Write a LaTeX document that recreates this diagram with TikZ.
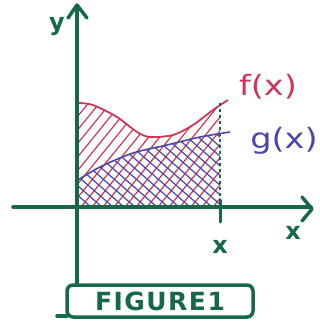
\documentclass[tikz,border=0pt]{standalone}
\usepackage{fontspec}
\setsansfont{DejaVu Sans}
\newfontfamily\handfont[LetterSpace=6]{DejaVu Sans}
\definecolor{pen}{RGB}{22,105,72}
\definecolor{fred}{RGB}{205,55,85}
\definecolor{gblue}{RGB}{75,70,170}
\begin{document}
\begin{tikzpicture}[x=1pt,y=-1pt,
  axis/.style={pen, line width=3.5pt, line cap=round, line join=round},
  fcurve/.style={fred, line width=1.8pt},
  gcurve/.style={gblue, line width=1.6pt},
  redhatch/.style={fred, line width=1.2pt},
  bluehatch/.style={gblue, line width=1.2pt},
  lbl/.style={inner sep=0pt, font=\sffamily}]
\useasboundingbox (0,0) rectangle (320,332);
% hatching under f
\begin{scope}
  \clip (77,0) rectangle (220,207);
  \clip (77,207) -- (78,103) -- plot[smooth] coordinates {(78,103) (93,105) (117,117) (137,132) (150,137) (173,135) (193,125) (213,110) (228,100)} -- (228,207) -- cycle;
  \foreach \a in {-150,-139,...,230} \draw[redhatch] (\a,207) -- ++(130,-160);
\end{scope}
% hatching under g
\begin{scope}
  \clip (77,0) rectangle (220,207);
  \clip (77,207) -- (78,180) -- plot[smooth] coordinates {(78,180) (100,167) (133,153) (167,145) (200,137) (230,132)} -- (230,207) -- cycle;
  \foreach \a in {80,91,...,400} \draw[bluehatch] (\a,207) -- ++(-160,-140);
\end{scope}
% curves
\draw[fcurve] plot[smooth] coordinates {(78,103) (93,105) (117,117) (137,132) (150,137) (173,135) (193,125) (213,110) (228,100)};
\draw[gcurve] plot[smooth] coordinates {(78,180) (100,167) (133,153) (167,145) (200,137) (230,132)};
% dashed bound
\draw[pen, line width=1.5pt, dashed] (220,103) -- (220,207);
\draw[axis, line width=3pt] (220,200) -- (220,222);
% axes
\draw[axis] (13,207) -- (311,207);
\draw[axis] (302,197) -- (312,209) -- (302,221);
\draw[axis] (77,285) -- (77,6);
\draw[axis] (68,18) -- (77,5) -- (87,18);
% labels
\node[lbl, pen, font=\sffamily\bfseries\fontsize{24}{24}\selectfont] (ylab) at (57,27) {y};
\node[lbl, pen, font=\sffamily\bfseries\fontsize{24}{24}\selectfont] (xlab) at (293,233) {x};
\node[lbl, pen, font=\sffamily\bfseries\fontsize{24}{24}\selectfont] (xval) at (220,247) {x};
\node[lbl, fred, font=\sffamily\fontsize{28}{28}\selectfont] (flab) at (268,87) {\scalebox{1.2}[1]{f(x)}};
\node[lbl, gblue, font=\sffamily\fontsize{28}{28}\selectfont] (glab) at (284,141) {\scalebox{1.2}[1]{g(x)}};
% figure box
\draw[axis, rounded corners=6pt] (67,285) rectangle (253,317);
\draw[axis] (57,316) -- (67,316);
\node[lbl, pen, font=\handfont\bfseries\fontsize{25}{25}\selectfont] (fig) at (160,301) {FIGURE1};
\end{tikzpicture}
\end{document}
